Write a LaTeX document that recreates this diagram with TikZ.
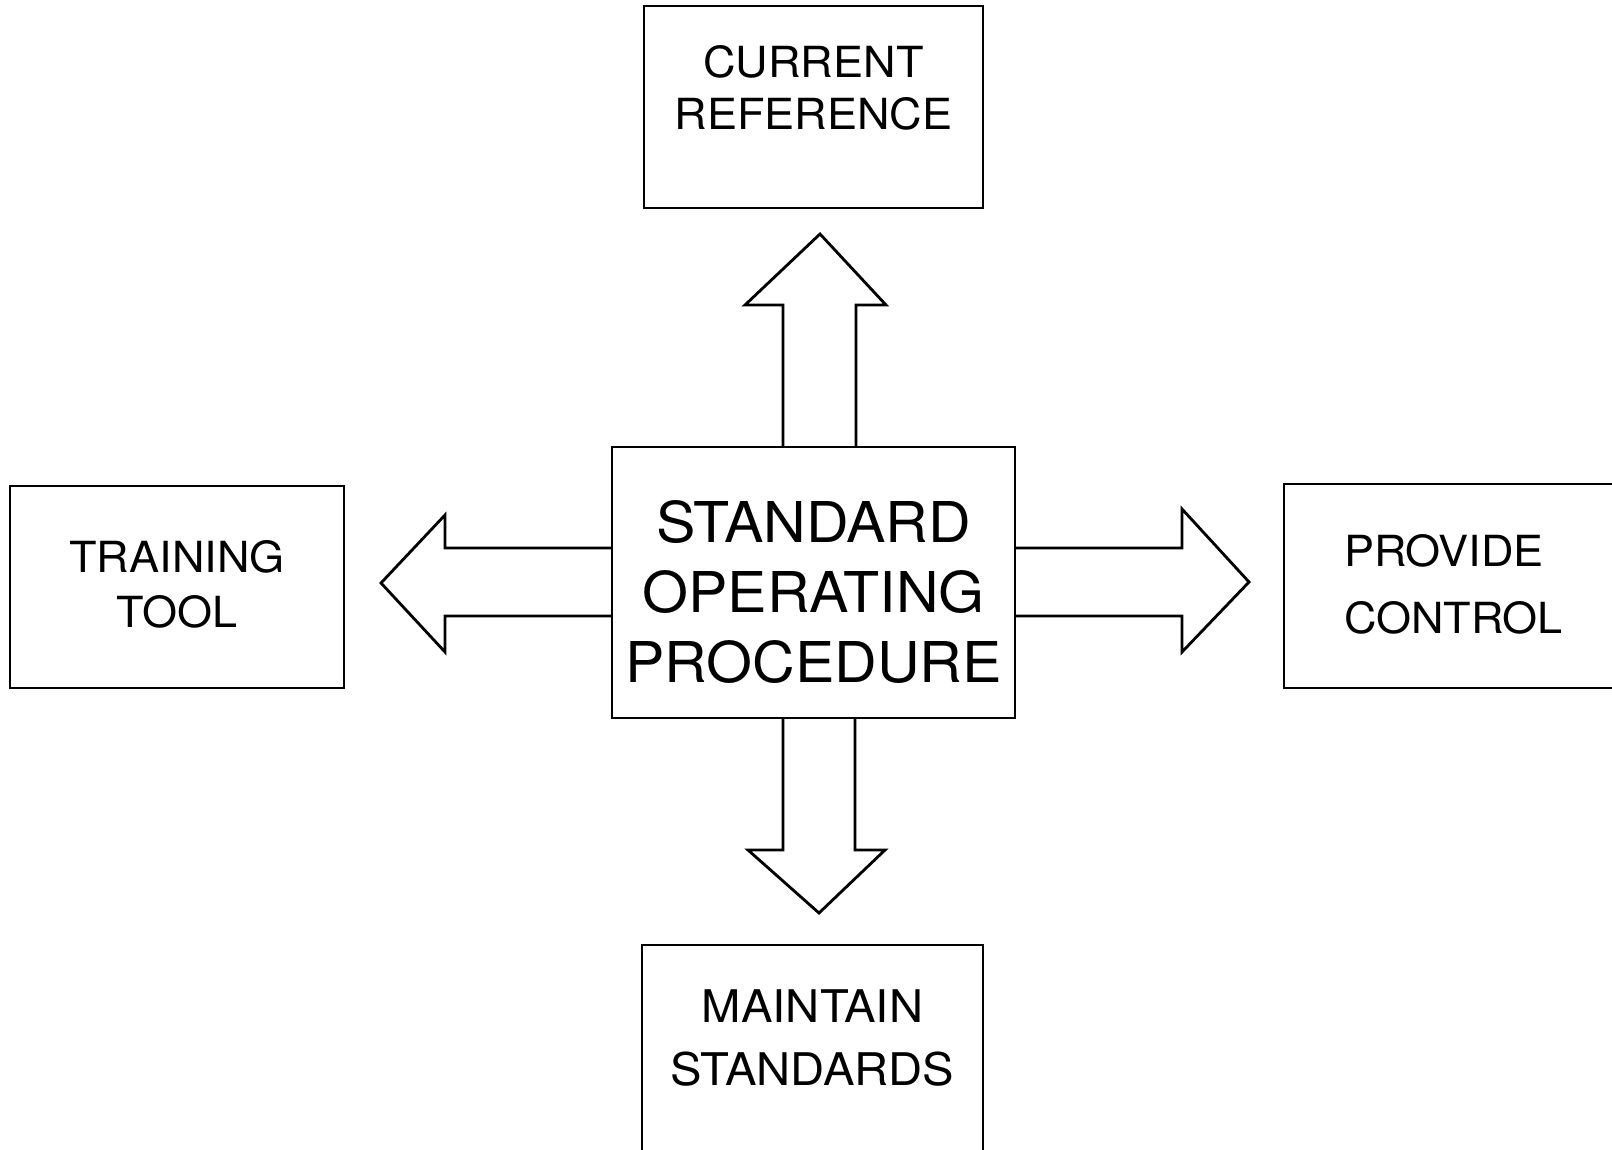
\documentclass[tikz,border=0pt]{standalone}
\usepackage{fontspec}
\setmainfont{TeX Gyre Heros}[FakeStretch=1.05]
\usepackage{tikz}
\tikzset{
        every picture/.style={line width=0.8pt},
        box/.style={draw, inner sep=0pt, outer sep=0pt, anchor=north, align=center}, % plain frame round a label
        lbl/.style 2 args={font=\fontsize{#1}{#2}\selectfont}, % labels: size and line distance
        blockarrow/.style={draw, line join=miter}, % hollow arrows
}

\begin{document}
\begin{tikzpicture}
\useasboundingbox (0,0) rectangle (16.12,-11.49);
\clip (0,0) rectangle (16.12,-11.49);
% boxes
\node[box, lbl={16pt}{19.8pt}, minimum width=4.03cm, text height=2.35cm, text depth=0.36cm] (sop) at (8.135,-4.47) {STANDARD\\OPERATING\\PROCEDURE};
\node[box, lbl={12.2pt}{14.8pt}, minimum width=3.39cm, text height=1.24cm, text depth=0.78cm] (cur) at (8.135,-0.06) {CURRENT\\REFERENCE};
\node[box, lbl={12.2pt}{15.4pt}, minimum width=3.34cm, text height=1.41cm, text depth=0.61cm] (trn) at (1.77,-4.86) {TRAINING\\TOOL};
\node[box, lbl={12.2pt}{18.8pt}, align=left, minimum width=3.39cm, text height=1.49cm, text depth=0.55cm] (ctl) at (14.535,-4.84) {PROVIDE\\CONTROL};
\node[box, lbl={12.8pt}{17.9pt}, minimum width=3.41cm, text height=1.40cm, text depth=2.0cm] (mnt) at (8.125,-9.45) {MAINTAIN\\STANDARDS};
% arrows out of the middle box
\draw[blockarrow] ([xshift=-3.05mm]sop.north) -- ++(0,1.42) -- ++(-0.38,0) -- ++(0.75,0.71) -- ++(0.66,-0.71) -- ++(-0.30,0) -- ++(0,-1.42);
\draw[blockarrow] ([xshift=-3.05mm]sop.south) -- ++(0,-1.32) -- ++(-0.35,0) -- ++(0.71,-0.63) -- ++(0.66,0.63) -- ++(-0.30,0) -- ++(0,1.32);
\draw[blockarrow] ([yshift=3.45mm]sop.west) -- ++(-1.67,0) -- ++(0,0.33) -- ++(-0.64,-0.68) -- ++(0.64,-0.69) -- ++(0,0.36) -- ++(1.67,0);
\draw[blockarrow] ([yshift=3.45mm]sop.east) -- ++(1.67,0) -- ++(0,0.39) -- ++(0.67,-0.73) -- ++(-0.67,-0.70) -- ++(0,0.36) -- ++(-1.67,0);
\end{tikzpicture}
\end{document}
